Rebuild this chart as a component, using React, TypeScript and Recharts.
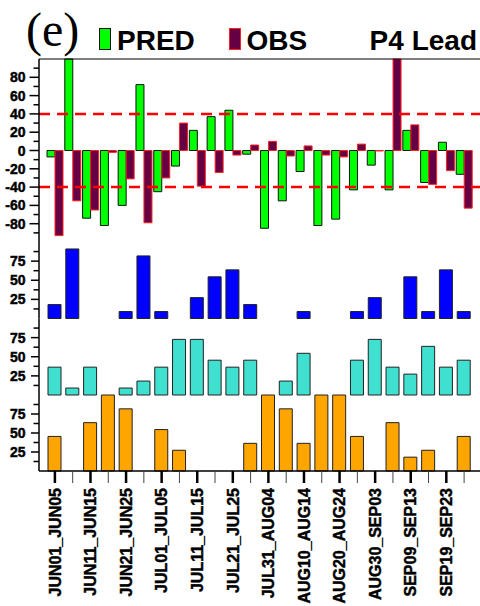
import { BarChart, Bar, XAxis, YAxis, ReferenceLine } from 'recharts';

const periods = [
  'JUN01_JUN05', 'JUN06_JUN10', 'JUN11_JUN15', 'JUN16_JUN20', 'JUN21_JUN25', 'JUN26_JUN30',
  'JUL01_JUL05', 'JUL06_JUL10', 'JUL11_JUL15', 'JUL16_JUL20', 'JUL21_JUL25', 'JUL26_JUL30',
  'JUL31_AUG04', 'AUG05_AUG09', 'AUG10_AUG14', 'AUG15_AUG19', 'AUG20_AUG24', 'AUG25_AUG29',
  'AUG30_SEP03', 'SEP04_SEP08', 'SEP09_SEP13', 'SEP14_SEP18', 'SEP19_SEP23', 'SEP24_SEP28',
];

const pred = [-7, 100, -74, -82, -60, 72, -45, -17, 22, 37, 44, -4, -85, -55, -23, -82, -75, -43, -16, -43, 22, -35, 9, -26];
const obs = [-93, -55, -65, -2, -31, -79, -30, 30, -39, -24, -5, 6, 10, -6, 5, -5, -7, 7, -0.5, 100, 28, -37, -22, -63];

const bluePct = [18.2, 90.9, 0, 0, 9.1, 81.8, 9.1, 0, 27.3, 54.5, 63.6, 18.2, 0, 0, 9.1, 0, 0, 9.1, 27.3, 0, 54.5, 9.1, 63.6, 9.1];
const cyanPct = [36.4, 9.1, 36.4, 0, 9.1, 18.2, 36.4, 72.7, 72.7, 45.5, 36.4, 45.5, 0, 18.2, 54.5, 0, 0, 45.5, 72.7, 36.4, 27.3, 63.6, 36.4, 45.5];
const orangePct = [45.5, 0, 63.6, 100, 81.8, 0, 54.5, 27.3, 0, 0, 0, 36.4, 100, 81.8, 36.4, 100, 100, 45.5, 0, 63.6, 18.2, 27.3, 0, 45.5];

const topTicks = [-90, -80, -70, -60, -50, -40, -30, -20, -10, 0, 10, 20, 30, 40, 50, 60, 70, 80, 90];
const pctTicks = [12.5, 25, 37.5, 50, 62.5, 75, 87.5];

const data = periods.map((p, i) => ({
  period: p,
  pred: pred[i],
  obs: obs[i],
  blue: bluePct[i],
  cyan: cyanPct[i],
  orange: orangePct[i],
}));

const FONT = '"Liberation Sans", Arial, Helvetica, sans-serif';
const PAD = { left: 7, right: 7 };

// heavy bold labels, like the original figure
const labelStyle = {
  fontSize: 14,
  fontWeight: 'bold',
  fontFamily: FONT,
  fill: '#000',
  stroke: '#000',
  strokeWidth: 0.45,
} as const;

const TopYTick = ({ x, y, payload }: any) => {
  const v = payload.value;
  const major = v % 20 === 0;
  return (
    <g>
      <line x1={x - (major ? 9.5 : 5.5)} x2={x} y1={y} y2={y} stroke="#000" strokeWidth={1.5} />
      {major && (
        <text x={x - 13.5} y={y} dy="0.36em" textAnchor="end" {...labelStyle}>
          {v}
        </text>
      )}
    </g>
  );
};

const PctYTick = ({ x, y, payload }: any) => {
  const v = payload.value;
  const major = v % 25 === 0;
  return (
    <g>
      <line x1={x - (major ? 8 : 5.5)} x2={x} y1={y} y2={y} stroke="#000" strokeWidth={1.5} />
      {major && (
        <text x={x - 13.5} y={y} dy="0.36em" textAnchor="end" {...labelStyle}>
          {v}
        </text>
      )}
    </g>
  );
};

const UpXTick = ({ x, y, payload }: any) => {
  const i = periods.indexOf(payload.value);
  const major = i % 2 === 0;
  return (
    <line x1={x} x2={x} y1={y} y2={y - 11} stroke={major ? '#000' : '#444'} strokeWidth={major ? 2.5 : 1} />
  );
};

const BottomXTick = ({ x, y, payload }: any) => {
  const i = periods.indexOf(payload.value);
  const major = i % 2 === 0;
  return (
    <g>
      <line x1={x} x2={x} y1={y} y2={y + 12} stroke={major ? '#000' : '#444'} strokeWidth={major ? 2.5 : 1} />
      {major && (
        <text
          transform={`translate(${x},${y + 17}) rotate(-90)`}
          dy="0.36em"
          textAnchor="end"
          {...labelStyle}
          fontSize={16}
        >
          {payload.value}
        </text>
      )}
    </g>
  );
};

const PctPanel = ({ top, height, mTop, mBottom, dataKey, color, bottomAxis }: any) => (
  <div style={{ position: 'absolute', left: 0, top }}>
    <BarChart width={480} height={height} data={data} margin={{ top: mTop, right: 0, bottom: mBottom, left: 0 }}>
      <XAxis
        dataKey="period"
        interval={0}
        padding={PAD}
        height={bottomAxis ? 135 : 0}
        tickSize={0}
        tickMargin={0}
        tickLine={false}
        axisLine={{ stroke: '#000', strokeWidth: 1.5 }}
        tick={bottomAxis ? <BottomXTick /> : false}
      />
      <YAxis
        width={39}
        domain={[0, 100]}
        ticks={pctTicks}
        interval={0}
        tickSize={0}
        tickMargin={0}
        tickLine={false}
        axisLine={{ stroke: '#000', strokeWidth: 1.5 }}
        tick={<PctYTick />}
      />
      <Bar dataKey={dataKey} fill={color} stroke="#222" strokeWidth={1} barSize={13} isAnimationActive={false} />
    </BarChart>
  </div>
);

export default function App() {
  return (
    <div style={{ position: 'absolute', left: 0, top: 0, width: 480, height: 606, background: '#fff', overflow: 'hidden' }}>
      <div style={{ position: 'absolute', left: 0, top: 0 }}>
        <BarChart width={480} height={243} data={data} barGap={0} margin={{ top: 59, right: 0, bottom: 1, left: 0 }}>
          <XAxis
            dataKey="period"
            interval={0}
            padding={PAD}
            height={0}
            tickSize={0}
            tickMargin={0}
            tickLine={false}
            axisLine={{ stroke: '#000', strokeWidth: 1.5 }}
            tick={<UpXTick />}
          />
          <YAxis
            width={39}
            domain={[-100, 100]}
            ticks={topTicks}
            interval={0}
            tickSize={0}
            tickMargin={0}
            tickLine={false}
            axisLine={{ stroke: '#000', strokeWidth: 1.5 }}
            tick={<TopYTick />}
          />
          <Bar dataKey="pred" fill="#00ff00" stroke="#111" strokeWidth={1} barSize={8} isAnimationActive={false} />
          <Bar dataKey="obs" fill="#660044" stroke="#ff2020" strokeWidth={1} barSize={8} isAnimationActive={false} />
          <ReferenceLine y={100} stroke="#000" strokeWidth={1.2} />
          <ReferenceLine y={40} stroke="#ff0000" strokeWidth={2.5} strokeDasharray="11 7" />
          <ReferenceLine y={-40} stroke="#ff0000" strokeWidth={2.5} strokeDasharray="11 7" />
        </BarChart>
      </div>
      <PctPanel top={240} height={80} mTop={2} mBottom={1.5} dataKey="blue" color="#0000ff" />
      <PctPanel top={316} height={81} mTop={2.5} mBottom={2} dataKey="cyan" color="#40e0d0" />
      <PctPanel top={393} height={213} mTop={2} mBottom={0} dataKey="orange" color="#ffa500" bottomAxis />
      <svg width={480} height={60} style={{ position: 'absolute', left: 0, top: 0 }}>
        <text x={26} y={46} fontSize={48} fontFamily='"Liberation Serif", "Times New Roman", serif' fill="#000">
          (e)
        </text>
        <rect x={99.5} y={28.5} width={11} height={21} fill="#00ff00" stroke="#111" strokeWidth={1} />
        <text x={117} y={49.5} fontSize={28} fontWeight="bold" fontFamily={FONT} fill="#000">
          PRED
        </text>
        <rect x={229.5} y={28.5} width={11} height={21} fill="#660044" stroke="#ff2020" strokeWidth={1} />
        <text x={246.5} y={49.5} fontSize={28} fontWeight="bold" fontFamily={FONT} fill="#000">
          OBS
        </text>
        <text x={477} y={49.5} textAnchor="end" fontSize={28} fontWeight="bold" fontFamily={FONT} fill="#000">
          P4 Lead
        </text>
      </svg>
    </div>
  );
}
